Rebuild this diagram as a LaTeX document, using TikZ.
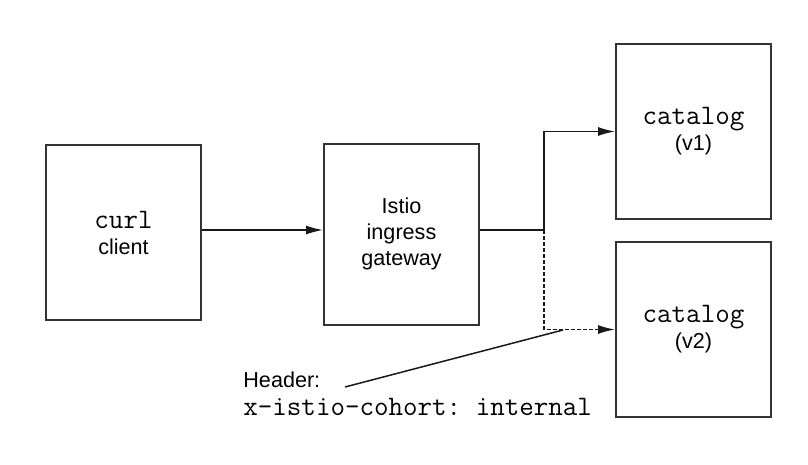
\documentclass[tikz,border=0pt]{standalone}
\usepackage{fontspec}
\setmainfont{Liberation Sans}
\usetikzlibrary{arrows.meta}
\newcommand{\code}[1]{{\fontsize{14.1}{13}\selectfont\ttfamily\frenchspacing #1}}

\begin{document}
\begin{tikzpicture}[x=0.5pt,y=-0.5pt,
  box/.style={draw=black!80,line width=1pt,minimum width=77.5pt,minimum height=87.5pt,
    inner sep=0pt,align=center,font=\fontsize{10.8}{13}\selectfont},
  wire/.style={draw=black!90,line width=0.75pt},
  flow/.style={wire,-{Latex[length=8.5pt,width=4.5pt]}}]
\useasboundingbox (0,0) rectangle (808,465);
\node [box] (curl) at (123.5,232.5) {\code{curl}\\client};
\node [box,minimum height=90.5pt] (gw) at (401.5,234) {Istio\\ingress\\gateway};
\node [box] (v1) at (693.5,131.5) {\code{catalog}\\(v1)};
\node [box] (v2) at (693.5,329.5) {\code{catalog}\\(v2)};
\coordinate (split) at (544,230);
\draw [flow] (curl.east |- split) -- (gw.west |- split);
\draw [wire] (gw.east |- split) -- (split);
\draw [flow] (split) |- (v1.west);
\draw [flow,dash pattern=on 2pt off 1pt] (split) |- (v2.west);
% header note
\node [anchor=north west,align=left,inner sep=0pt,font=\fontsize{10.8}{14}\selectfont] (hdr) at (243,371.5)
  {Header:\\\code{x-istio-cohort: internal}};
\coordinate (tip) at (345,387);
\coordinate (tap) at (563,330);
\draw [wire] (tip) -- (tap);
\end{tikzpicture}
\end{document}
